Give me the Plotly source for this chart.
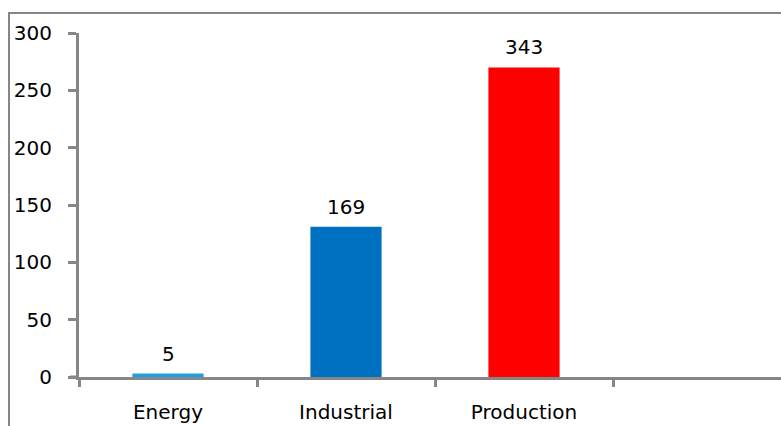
import plotly.graph_objects as go

categories = ["Energy", "Industrial", "Production", " "]
bar_heights = [3, 131, 270, None]
bar_labels = ["5", "169", "343", ""]
bar_colors = ["#1BA1E2", "#0070C0", "#FF0000", "#FFFFFF"]
y_ticks = [0, 50, 100, 150, 200, 250, 300]

W, H = 781, 426
L, R, T, B = 79, 0, 33, 49
pw = W - L - R
ph = H - T - B
unit = 178.0
FS = 20

fig = go.Figure()
fig.add_trace(go.Bar(
    x=categories, y=bar_heights, marker=dict(color=bar_colors, line=dict(width=0)),
    width=0.4, showlegend=False, hoverinfo="skip"))

for c, v, t in zip(categories, bar_heights, bar_labels):
    if v is None:
        continue
    fig.add_annotation(x=c, y=v, text=t, showarrow=False, yanchor="bottom",
                       yshift=6, font=dict(family="DejaVu Sans", size=FS, color="black"))

gray = "#868686"
fig.add_shape(type="rect", xref="paper", yref="paper",
              x0=(9 - L) / pw, x1=1.05, y0=-0.2, y1=1 + (T - 13) / ph,
              line=dict(color=gray, width=2), fillcolor="rgba(0,0,0,0)", layer="below")
# extend the x axis line left under the y tick
fig.add_shape(type="line", xref="paper", yref="paper",
              x0=(70 - L) / pw, x1=0, y0=0, y1=0,
              line=dict(color=gray, width=3))

fig.update_layout(
    width=W, height=H,
    margin=dict(l=L, r=R, t=T, b=B, pad=0),
    plot_bgcolor="white", paper_bgcolor="white",
    font=dict(family="DejaVu Sans", size=FS, color="black"),
    xaxis=dict(type="category", categoryorder="array", categoryarray=categories,
               range=[-0.5, -0.5 + pw / unit], tickson="boundaries",
               ticks="outside", ticklen=7, tickwidth=3, tickcolor=gray,
               showline=True, linecolor=gray, linewidth=3,
               showgrid=False, zeroline=False, ticklabelstandoff=15,
               tickfont=dict(family="DejaVu Sans", size=FS, color="black")),
    yaxis=dict(range=[0, 300], tickvals=y_ticks, ticks="outside", ticklen=8,
               tickwidth=3, tickcolor=gray, showline=True, linecolor=gray,
               linewidth=3, showgrid=False, zeroline=False, ticklabelstandoff=12,
               tickfont=dict(family="DejaVu Sans", size=FS, color="black")),
)

fig.write_html("out.html")
